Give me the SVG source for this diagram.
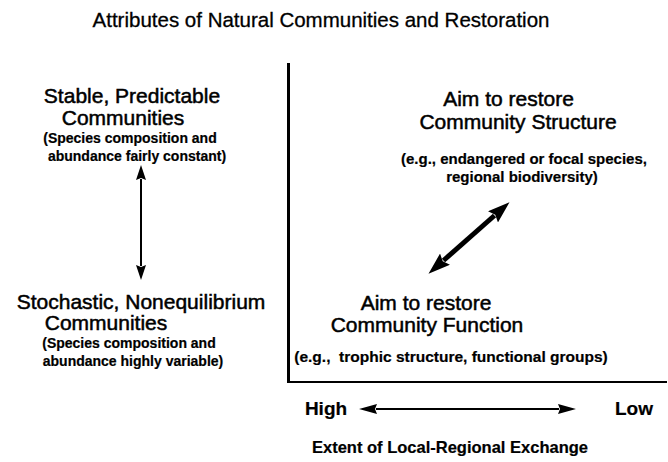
<svg xmlns="http://www.w3.org/2000/svg" width="668" height="462" viewBox="0 0 668 462">
<style>
text{font-family:"Liberation Sans",Arial,Helvetica,sans-serif;fill:#000;stroke:#000;text-anchor:middle}
.t{font-size:20.5px;stroke-width:0.3px}
.m{font-size:21px;stroke-width:0.5px}
.s{font-size:14px;font-weight:bold;stroke-width:0.2px}
.r{font-size:15px;font-weight:bold;stroke-width:0.2px}
.a{font-size:19px;font-weight:bold;stroke-width:0.2px}
.e{font-size:16.5px;font-weight:bold;stroke-width:0.2px}
.ax{stroke:#000;fill:none}
.c{stroke:#000;fill:none}
</style>
<defs>
<marker id="hs" viewBox="0 0 15 10" refX="1" refY="5" markerWidth="15" markerHeight="10" markerUnits="userSpaceOnUse" orient="auto-start-reverse"><path d="M0,0 L15,5 L0,10 L2,5 z"/></marker>
<marker id="hb" viewBox="0 0 22 15" refX="2" refY="7.5" markerWidth="22" markerHeight="15" markerUnits="userSpaceOnUse" orient="auto-start-reverse"><path d="M0,0 L22,7.5 L0,15 L3,7.5 z"/></marker>
<marker id="hh" viewBox="0 0 18 10" refX="1" refY="5" markerWidth="18" markerHeight="10" markerUnits="userSpaceOnUse" orient="auto-start-reverse"><path d="M0,0 L18,5 L0,10 L2,5 z"/></marker>
</defs>
<text class="t" x="321" y="27">Attributes of Natural Communities and Restoration</text>
<g id="axes">
<line class="ax" x1="288.5" y1="63" x2="288.5" y2="383" stroke-width="3"/>
<line class="ax" x1="287" y1="382" x2="667" y2="382" stroke-width="2"/>
</g>
<g id="stable">
<text class="m" x="132" y="103">Stable, Predictable</text>
<text class="m" x="123" y="125">Communities</text>
<text class="s" x="130" y="143">(Species composition and</text>
<text class="s" x="137" y="161">abundance fairly constant)</text>
</g>
<g id="stochastic">
<text class="m" x="141" y="309">Stochastic, Nonequilibrium</text>
<text class="m" x="106" y="330">Communities</text>
<text class="s" x="129" y="348">(Species composition and</text>
<text class="s" x="133" y="366">abundance highly variable)</text>
</g>
<g id="structure">
<text class="m" x="508.5" y="106">Aim to restore</text>
<text class="m" x="518" y="129">Community Structure</text>
<text class="r" x="524" y="164">(e.g., endangered or focal species,</text>
<text class="r" x="522" y="182">regional biodiversity)</text>
</g>
<g id="function">
<text class="m" x="426" y="310">Aim to restore</text>
<text class="m" x="427" y="332">Community Function</text>
<text class="r" x="451" y="362" xml:space="preserve" style="font-size:15.5px">(e.g.,  trophic structure, functional groups)</text>
</g>
<g id="xaxis">
<text class="a" x="326" y="415">High</text>
<text class="a" x="634" y="415">Low</text>
<text class="e" x="450" y="453">Extent of Local-Regional Exchange</text>
</g>
<g id="connectors">
<line class="c" x1="141" y1="179" x2="141" y2="266" stroke-width="2" marker-start="url(#hs)" marker-end="url(#hs)"/>
<line class="c" x1="443.5" y1="260.5" x2="494.5" y2="215.5" stroke-width="5" marker-start="url(#hb)" marker-end="url(#hb)"/>
<line class="c" x1="376" y1="409" x2="559" y2="409" stroke-width="2" marker-start="url(#hh)" marker-end="url(#hh)"/>
</g>
</svg>
